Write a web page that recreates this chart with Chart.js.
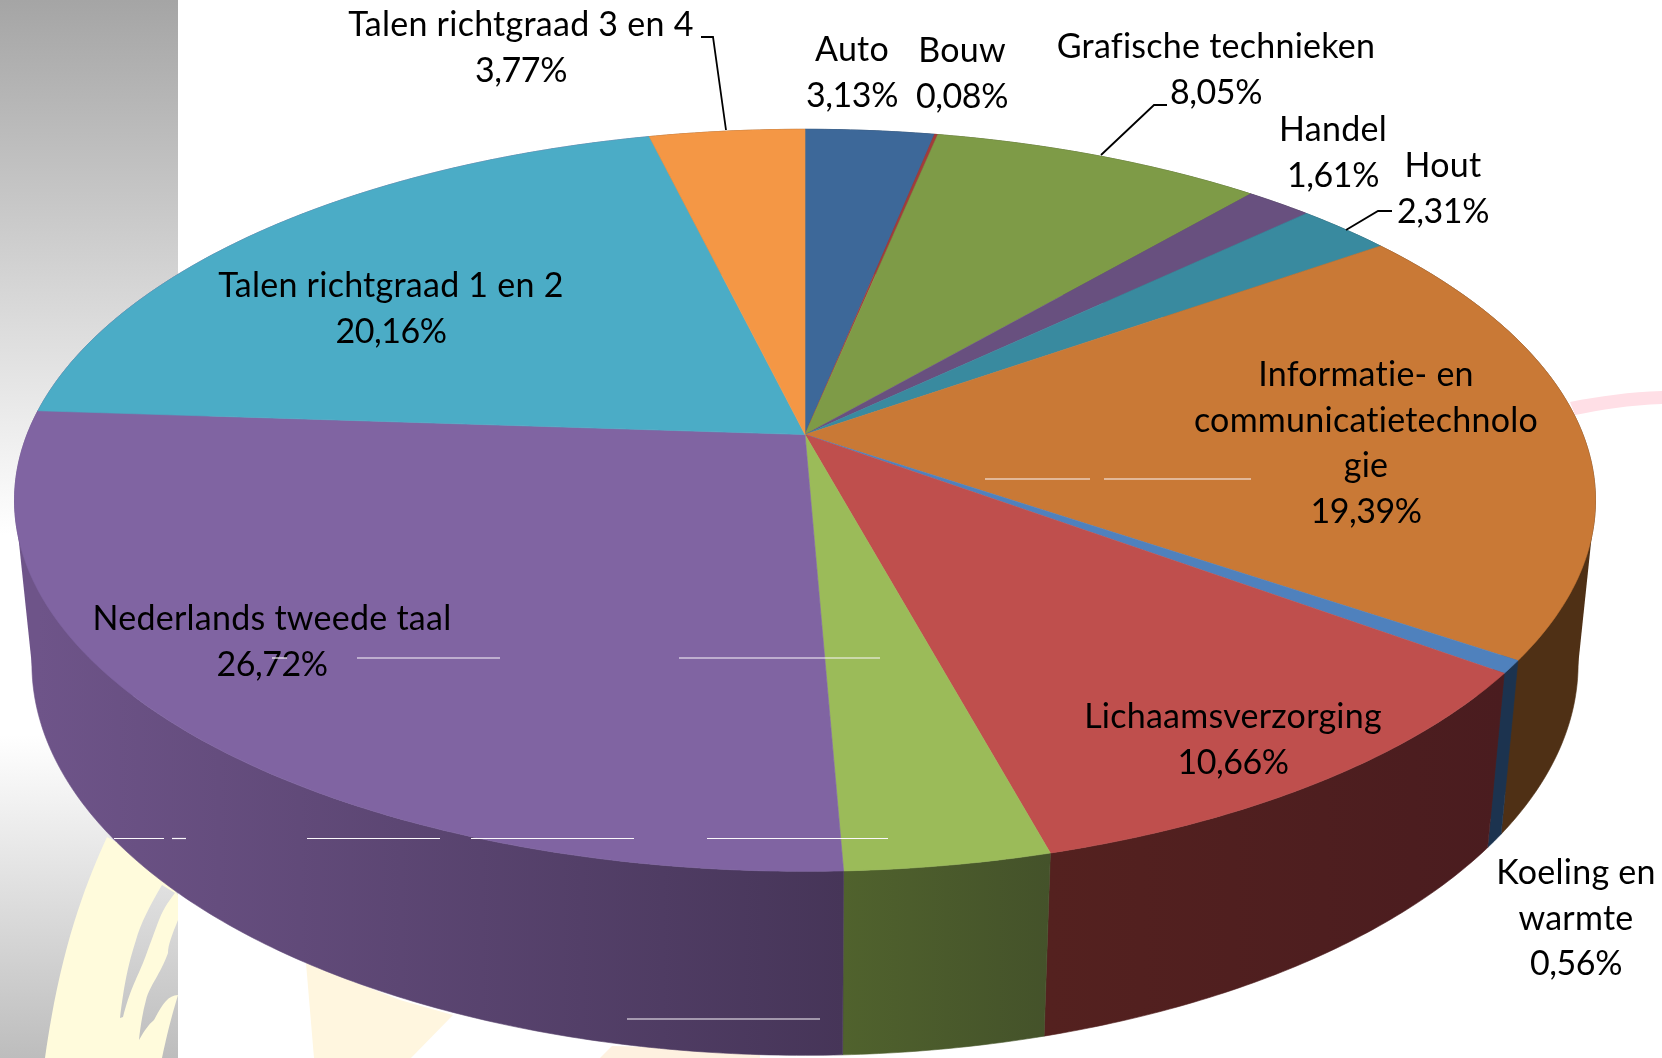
<!DOCTYPE html>
<html>
<head>
<meta charset="utf-8">
<title>Talen en richtgraden</title>
<script src="https://cdn.jsdelivr.net/npm/chart.js@4"></script>
<style>
  html, body { margin: 0; padding: 0; background: #fff; overflow: hidden; }
  #stage { position: relative; width: 1662px; height: 1058px; }
  #band { position: absolute; left: 0; top: 0; width: 178px; height: 1058px;
    background: linear-gradient(to bottom, #a5a5a5 0, #ffffff 535px, #ffffff 735px, #bdbdbd 1058px); }
  #backdrop, #myChart { position: absolute; left: 0; top: 0; }
</style>
</head>
<body>
<div id="stage">
  <div id="band"></div>
  <svg id="backdrop" width="1662" height="1058">
    <path fill-rule="evenodd" fill="#fffbdc"
      d="M107 837 C85 885 60 950 45 1058 L162 1058 C168 1030 172 1015 178 995 L178 895 L150 860 Z
         M162 885 C150 905 140 925 136 940 C128 965 124 985 120 1018 L123 1017 C130 990 136 980 143 963 C150 945 155 930 159 920 C165 905 170 900 175 893 Z
         M178 920 C172 935 168 945 168 953 C160 975 150 985 146 1000 C142 1015 140 1030 139 1040 C145 1030 148 1025 154 1020 C162 1005 168 995 178 995 Z"/>
    <path d="M306 963 L314 1058 L411 1058 L453 1015 L400 1000 Z" fill="#fff6df"/>
    <path d="M600 1058 L612 1046 L760 1050 L760 1058 Z" fill="#fef1e0"/>
    <path d="M1570 402 C1600 396 1630 392 1662 391 L1662 404 C1630 405 1600 410 1575 415 Z" fill="#ffdfe6"/>
  </svg>
  <canvas id="myChart" width="1662" height="1058"></canvas>
</div>
<script>
// percentages, as printed on the slide (green slice has no label there, it is what is left of 100)
var categories = ['Auto', 'Bouw', 'Grafische technieken', 'Handel', 'Hout',
  'Informatie- en communicatietechnologie', 'Koeling en warmte', 'Lichaamsverzorging', '',
  'Nederlands tweede taal', 'Talen richtgraad 1 en 2', 'Talen richtgraad 3 en 4'];
var shares = [3.13, 0.08, 8.05, 1.61, 2.31, 19.39, 0.56, 10.66, 3.56, 26.72, 20.16, 3.77];
var topColors = ['#3d6899', '#a33c3a', '#7e9b47', '#68507f', '#398a9f', '#c97936',
  '#4f81bd', '#bf4f4d', '#9bbb59', '#8064a2', '#4bacc6', '#f49745'];
var sideStart = ['#1f3550', '#501f1e', '#424f26', '#352a42', '#1e4753', '#4f3015',
  '#1c334f', '#4a1c1f', '#44522a', '#463558', '#6e5489', '#7f4d24'];
var sideEnd = ['#1f3550', '#501f1e', '#424f26', '#352a42', '#1e4753', '#4f3015',
  '#1c334f', '#54211f', '#50622d', '#6e5489', '#6e5489', '#7f4d24'];

// how the slide broke the label text, one entry per category
var labelLines = [['Auto'], ['Bouw'], ['Grafische technieken'], ['Handel'], ['Hout'],
  ['Informatie- en', 'communicatietechnolo', 'gie'], ['Koeling en', 'warmte'], ['Lichaamsverzorging'], [],
  ['Nederlands tweede taal'], ['Talen richtgraad 1 en 2'], ['Talen richtgraad 3 en 4']];
// x centre, y of first line
var labelAnchors = [[852, 50], [962, 51], [1216, 47], [1333, 130], [1443, 166], [1366, 375],
  [1576, 873], [1233, 717], null, [272, 619], [391, 286], [521, 25]];
const LINE_HEIGHT = 45.6;

var leaderLines = [
  [[701, 37], [713, 37], [726, 130]],
  [[1167, 105], [1154, 105], [1101, 155]],
  [[1392, 211], [1378, 211], [1346, 230]]
];
// stray white rules that are on the slide: y, x from, x to
var whiteRules = [[479, 985, 1090], [479, 1104, 1251], [658, 272, 287], [658, 357, 500], [658, 679, 880],
  [838.5, 114, 164], [838.5, 172, 186], [838.5, 307, 440], [838.5, 471, 634], [838.5, 707, 888], [1019, 627, 820]];

// perspective of the disc, fitted on the slice corners
const CX = 805, CY = 434.6, RX = 778, RY = 359.4, TILT = 0.1771;
const VANISH_X = 805, VANISH_Y = 8000, DEPTH = 0.0218;

function project(angle, depth){
  var u = Math.cos(angle), v = Math.sin(angle);
  var w = 1 - TILT * v;
  return {
    x: (RX * u + CX * w + depth * VANISH_X) / (w + depth),
    y: (RY * v + CY * w + depth * VANISH_Y) / (w + depth)
  };
}

function anglesBetween(start, end){
  var steps = Math.max(2, Math.ceil((end - start) / 0.01));
  var list = [];
  for(var i = 0; i <= steps; i++){
    list.push(start + (end - start) * i / steps);
  }
  return list;
}

function drawWall(ctx, arc, i){
  var steps = anglesBetween(arc.startAngle, arc.endAngle);
  var a = project(arc.startAngle, 0), b = project(arc.endAngle, 0);
  var fill = ctx.createLinearGradient(a.x, 0, b.x === a.x ? a.x + 1 : b.x, 0);
  fill.addColorStop(0, sideStart[i]);
  fill.addColorStop(1, sideEnd[i]);
  ctx.beginPath();
  steps.forEach((angle, n) => {
    var p = project(angle, 0);
    if(n === 0) ctx.moveTo(p.x, p.y); else ctx.lineTo(p.x, p.y);
  });
  steps.reverse().forEach((angle) => {
    var p = project(angle, DEPTH);
    ctx.lineTo(p.x, p.y);
  });
  ctx.closePath();
  ctx.fillStyle = fill;
  ctx.strokeStyle = fill;
  ctx.lineWidth = 0.6;
  ctx.fill();
  ctx.stroke();
}

// the straight outer edge of the wall, from the widest point of the top to the widest point of the bottom
function drawShoulder(ctx, widest, front, color){
  var top = project(widest, 0);
  var bottom = project(widest, DEPTH);
  anglesBetween(widest - 0.4, widest + 0.4).forEach((angle) => {
    var p = project(angle, DEPTH);
    if(Math.abs(p.x - CX) > Math.abs(bottom.x - CX)) bottom = p;
  });
  var inner = project(front, DEPTH);
  var near = project(front, 0);
  ctx.beginPath();
  ctx.moveTo(top.x, top.y);
  ctx.lineTo(bottom.x, bottom.y);
  ctx.lineTo(inner.x, inner.y);
  ctx.lineTo(near.x, near.y);
  ctx.closePath();
  ctx.fillStyle = color;
  ctx.fill();
}

function drawTop(ctx, arc, i){
  ctx.beginPath();
  ctx.moveTo(CX, CY);
  anglesBetween(arc.startAngle, arc.endAngle).forEach((angle) => {
    var p = project(angle, 0);
    ctx.lineTo(p.x, p.y);
  });
  ctx.closePath();
  ctx.fillStyle = topColors[i];
  ctx.strokeStyle = topColors[i];
  ctx.lineWidth = 0.6;
  ctx.fill();
  ctx.stroke();
}

function drawLabels(ctx){
  ctx.font = '34px Lato';
  ctx.fillStyle = '#000';
  ctx.textAlign = 'center';
  ctx.textBaseline = 'middle';
  labelLines.forEach((lines, i) => {
    if(!labelAnchors[i]) return;
    var x = labelAnchors[i][0], y = labelAnchors[i][1];
    ctx.letterSpacing = '0.25px';
    lines.forEach((line, n) => {
      ctx.fillText(line, x, y + n * LINE_HEIGHT);
    });
    ctx.letterSpacing = '-0.45px';
    ctx.fillText(shares[i].toFixed(2).replace('.', ',') + '%', x, y + lines.length * LINE_HEIGHT);
  });
  ctx.letterSpacing = '0px';
}

function drawLeaders(ctx){
  ctx.strokeStyle = '#000';
  ctx.lineWidth = 1.8;
  leaderLines.forEach((line) => {
    ctx.beginPath();
    line.forEach((p, n) => {
      if(n === 0) ctx.moveTo(p[0], p[1]); else ctx.lineTo(p[0], p[1]);
    });
    ctx.stroke();
  });
}

function drawRules(ctx){
  ctx.strokeStyle = '#fbf8fb';
  ctx.lineWidth = 1.2;
  whiteRules.forEach((r) => {
    ctx.beginPath();
    ctx.moveTo(r[1], r[0]);
    ctx.lineTo(r[2], r[0]);
    ctx.stroke();
  });
}

// Chart.js works out the slice angles, this draws them on the tilted disc
var tiltedPie = {
  id: 'tiltedPie',
  beforeDatasetDraw(chart, args){
    var ctx = chart.ctx;
    var arcs = chart.getDatasetMeta(args.index).data;
    var tilt = Math.asin(TILT);
    ctx.save();
    drawShoulder(ctx, Math.PI - tilt, Math.PI - 0.7, sideEnd[9]);
    drawShoulder(ctx, tilt, 0.7, sideStart[5]);
    arcs.forEach((arc, i) => drawWall(ctx, arc, i));
    arcs.forEach((arc, i) => drawTop(ctx, arc, i));
    drawLeaders(ctx);
    drawLabels(ctx);
    drawRules(ctx);
    ctx.restore();
    return false;
  }
};

var ctx = document.querySelector('#myChart');
var sharesChart = new Chart(ctx, {
  type: 'pie',
  data: {
    labels: categories,
    datasets: [{
      data: shares,
      backgroundColor: topColors,
      borderWidth: 0
    }]
  },
  options: {
    responsive: false,
    animation: false,
    plugins: {
      legend: { display: false },
      tooltip: { enabled: false }
    }
  },
  plugins: [tiltedPie]
});
</script>
</body>
</html>
